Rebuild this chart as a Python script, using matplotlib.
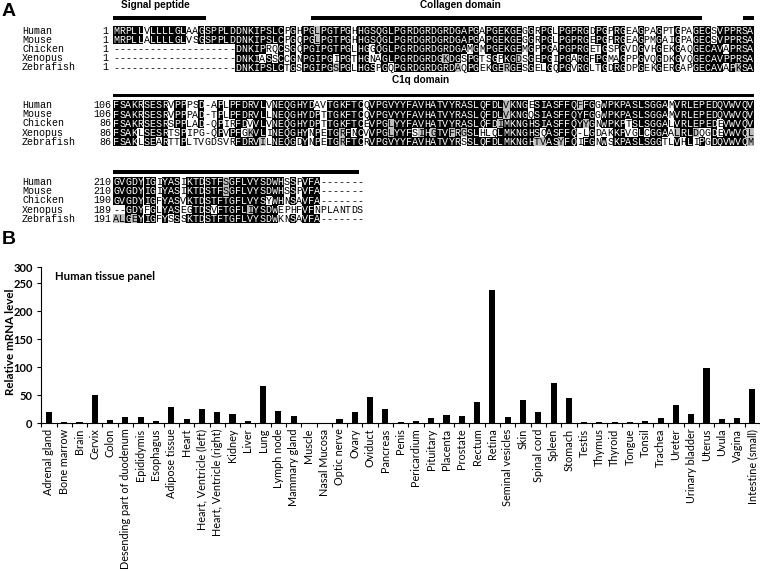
import numpy as np
import matplotlib
matplotlib.use("Agg")
import matplotlib.pyplot as plt
from matplotlib.patches import Rectangle
from collections import Counter

# ---------------- data: panel A (alignment) ----------------
species = ["Human", "Mouse", "Chicken", "Xenopus", "Zebrafish"]

block1 = [
    "MRPLLVLLLLGLAAGSPPLDDNKIPSLCPGHPGLPGTPGHHGSQGLPGRDGRDGRDGAPGAPGEKGEGGRPGLPGPRGDPGPRGEAGPAGPTGPAGECSVPPRSA",
    "MRPLLALLLLGLVSGSPPLDDNKIPSLCPGQPGLPGTPGHHGSQGLPGRDGRDGRDGAPGAPGEKGEGGRPGLPGPRGEPGPRGEAGPMGAIGPAGECSVPPRSA",
    "--------------------DNKIPRQCSGQPGIPGTPGLHGGQGLPGRDGRDGRDGAMGMPGEKGEMGPPGAPGPRGETGSPGVDGVHGEKGAQGECAVAPRSA",
    "--------------------DNKIASSCCGNPGIPGIPGTHGNAGLPGRDGRDGKDGSPGTSGPKGDSGEPGIPGARGFPGMAGPPGVQGDKGVQGECAVPPRSA",
    "--------------------DNKIPSLCTGSPGIPGSPGLHGSPGQPGRDGRDGRDAQPGEKGERGESGELGQPGVRGLTGDRGDPGEKGERGAPGECAVAPKSA",
]
block2 = [
    "FSAKRSESRVPPPSD-APLPFDRVLVNEQGHYDAVTGKFTCQVPGVYYFAVHATVYRASLQFDLVKNGESIASFFQFFGGWPKPASLSGGAMVRLEPEDQVWVQV",
    "FSAKRSESRVPPPAD-TPLPFDRVLLNEQGHYDPTTGKFTCQVPGVYYFAVHATVYRASLQFDLVKNGQSIASFFQYFGGWPKPASLSGGAMVRLEPEDQVWVQV",
    "FSAKRSESRSPPLAD-QPIRFDVVLVNEQGHYDPTTGKFTCEVPGLYYFAVHATVYRASLQFDIMKNGHSIASFFQYYGNWPKPTSLSGGALVRLEPEDEVWVQV",
    "FSAKLSESRTSPIPG-QPVPFGKVLINEQGHYNPETGRFNCVVPGLYYFSIHGTVFRGSLHLQLMKNGHSQASFFQ-LGDAKKPVGLCGGAALRLDQGDEVWVQL",
    "FSAKLSEARTTPLTVGDSVRFDRVILNEQGDYNPETGRFTCRVPGVYYFAVHATVYRSSLQFDLMKNGHTVASYFQIFGNWSKPASLSGGTLVHLIPGDQVWVQM",
]
block3 = [
    "GVGDYIGIYASIKTDSTFSGFLVYSDWHSSPVFA-------",
    "GVGDYIGIYASIKTDSTFSGFLVYSDWHSSPVFA-------",
    "GVGDYIGFYASVKTDSTFTGFLVYSYWHNSAVFA-------",
    "--GDYFGLYASEGTDSVFTGFLIYSDWEPHFVFNPLANTDS",
    "ALGEYIGFYSSSKTDSTFTGFLVYSDWKNSAVFA-------",
]
start1 = [1, 1, 1, 1, 1]
start2 = [106, 106, 86, 86, 86]
start3 = [210, 210, 190, 189, 191]

# domain bars: (block, first column, last column)
domain_bars = [(0, 0, 15.3), (0, 32.5, 96.6), (0, 103.2, 105), (1, 0, 105), (2, 0, 40.3)]
# domain titles: (text, block, centre column)
domain_titles = [("Signal peptide", 0, 7.0), ("Collagen domain", 0, 57.0), ("C1q domain", 1, 50.5)]

# ---------------- data: panel B (bar chart) ----------------
tissues = ["Adrenal gland", "Bone marrow", "Brain", "Cervix", "Colon",
           "Desending part of duodenum", "Epididymis", "Esophagus", "Adipose tissue",
           "Heart", "Heart, Ventricle (left)", "Heart, Ventricle (right)", "Kidney",
           "Liver", "Lung", "Lymph node", "Mammary gland", "Muscle", "Nasal Mucosa",
           "Optic nerve", "Ovary", "Oviduct", "Pancreas", "Penis", "Pericardium",
           "Pituitary", "Placenta", "Prostate", "Rectum", "Retina", "Seminal vesicles",
           "Skin", "Spinal cord", "Spleen", "Stomach", "Testis", "Thymus", "Thyroid",
           "Tongue", "Tonsil", "Trachea", "Ureter", "Urinary bladder", "Uterus",
           "Uvula", "Vagina", "Intestine (small)"]
mrna = [19, 1, 2, 50, 6, 10, 10, 4, 29, 8, 25, 19, 16, 4, 66, 22, 13, 0.5, 0.5,
        8, 19, 47, 25, 2, 3, 9, 14, 12, 37, 238, 10, 41, 19, 71, 45, 2, 1, 2.5,
        1, 3, 9, 32, 16, 98, 8, 9, 60]
yticks_b = [0, 50, 100, 150, 200, 250, 300]

# ---------------- shading rule (identity / similarity) ----------------
groups = ["FYW", "ILVM", "RK", "DE", "GA", "TS", "NQ"]


def similar(a, b):
    return any(a in g and b in g for g in groups)


def shade(block):
    n = len(block[0])
    out = [[None] * n for _ in block]
    for c in range(n):
        col = [s[c] for s in block]
        res = [r for r in col if r != "-"]
        if not res:
            continue
        cnt = Counter(res)
        cons, k = cnt.most_common(1)[0]
        thr = max(2, int(np.ceil(len(res) / 2)))
        for i, r in enumerate(col):
            if r == "-":
                out[i][c] = "none"
            elif k >= thr and r == cons:
                out[i][c] = "black"
            elif k >= thr and similar(r, cons):
                out[i][c] = "gray"
            else:
                out[i][c] = "none"
    return out


# ---------------- figure ----------------
W, H = 760, 571
fig = plt.figure(figsize=(W / 100, H / 100), dpi=100)

col_w = 6.1
x0 = 113
ncol = 105
ax = fig.add_axes([x0 / W, 1 - 240 / H, ncol * col_w / W, 240 / H])
ax.set_xlim(0, ncol)
ax.set_ylim(240, 0)
ax.axis("off")

mono = "Liberation Mono"
fs_seq = 7.2
pitch = 9.2
block_y = [30.6, 105.0, 182.0]
bar_y = [18.0, 95.5, 172.0]
title_y = [5.5, 80.0]

for b, (blk, starts) in enumerate(zip([block1, block2, block3], [start1, start2, start3])):
    sh = shade(blk)
    for i, seq in enumerate(blk):
        y = block_y[b] + i * pitch
        ax.text(-14.9, y, species[i], family=mono, fontsize=fs_seq, ha="left", va="center")
        if starts[i] < 10:
            ax.text(-1.75, y, str(starts[i]), family=mono, fontsize=fs_seq, ha="left", va="center")
        else:
            ax.text(-0.3, y, str(starts[i]), family=mono, fontsize=fs_seq, ha="right", va="center")
        for c, r in enumerate(seq):
            s = sh[i][c]
            fc = {"black": "black", "gray": "#bdbdbd"}.get(s)
            if fc is not None:
                ax.add_patch(Rectangle((c, y - pitch / 2), 1, pitch, facecolor=fc,
                                       edgecolor="none", lw=0))
            tc = "white" if s == "black" else "black"
            ax.text(c + 0.5, y + 0.3, r, family=mono, fontsize=fs_seq, color=tc,
                    ha="center", va="center")

for blk_i, c0, c1 in domain_bars:
    ax.add_patch(Rectangle((c0, bar_y[blk_i] - 1.6), c1 - c0, 3.2, facecolor="black",
                           edgecolor="none", clip_on=False))
for t, blk_i, cc in domain_titles:
    ax.text(cc, title_y[blk_i], t, family="Liberation Sans", fontweight="bold",
            fontsize=7.2, ha="center", va="center")

fig.text(2 / W, 1 - 11 / H, "A", family="Liberation Sans", fontweight="bold",
         fontsize=14, ha="left", va="center")
fig.text(2 / W, 1 - 240 / H, "B", family="Liberation Sans", fontweight="bold",
         fontsize=14, ha="left", va="center")

# ---------------- panel B ----------------
# the top segment of the y axis (250-300) is compressed, as in the original figure
BRK, SQ = 250.0, 16.0 / 28.0


def fwd(v):
    v = np.asarray(v, dtype=float)
    return np.where(v <= BRK, v, BRK + (v - BRK) * SQ)


def inv(u):
    u = np.asarray(u, dtype=float)
    return np.where(u <= BRK, u, BRK + (u - BRK) / SQ)


axb = fig.add_axes([41 / W, 148 / H, 719 / W, 156 / H])
x = np.arange(len(tissues))
axb.bar(x, mrna, width=0.4, color="black")
axb.set_yscale("function", functions=(fwd, inv))
axb.set_xlim(-0.52, len(tissues) - 0.5)
axb.set_ylim(0, 300)
axb.set_yticks(yticks_b)
axb.set_yticklabels([str(v) for v in yticks_b], family="Lato", fontweight="bold", fontsize=8)
axb.yaxis.set_minor_locator(matplotlib.ticker.NullLocator())
axb.set_xticks(x)
axb.set_xticklabels(tissues, rotation=90, family="Lato", fontsize=7.8)
axb.tick_params(axis="x", length=0, pad=4)
axb.set_xticks(np.arange(-0.5, len(tissues), 1), minor=True)
axb.tick_params(axis="x", which="minor", length=3, width=0.8, direction="out")
axb.tick_params(axis="y", length=3, width=0.8, direction="out", pad=3)
for s in ["top", "right"]:
    axb.spines[s].set_visible(False)
for s in ["left", "bottom"]:
    axb.spines[s].set_linewidth(0.8)
axb.set_ylabel("Relative mRNA level", family="Lato", fontweight="bold", fontsize=8.4)
axb.yaxis.set_label_coords(-0.035, 0.52)
axb.text(0.019, 0.94, "Human tissue panel", transform=axb.transAxes, family="Lato",
         fontweight="bold", fontsize=8.2, ha="left", va="center")

fig.savefig("out.png", dpi=100)
